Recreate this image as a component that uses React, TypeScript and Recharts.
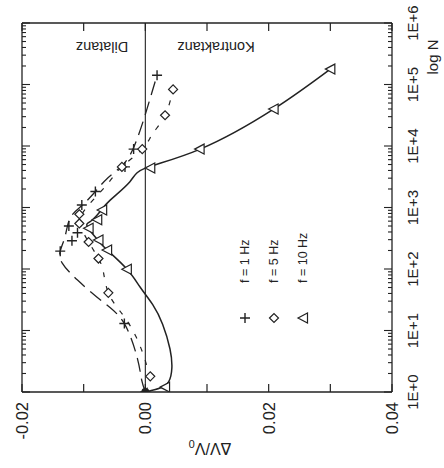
import {
  ComposedChart,
  Line,
  ReferenceLine,
  Scatter,
  XAxis,
  YAxis,
} from 'recharts';

const INK = '#222';
const FONT = '"Liberation Sans", Arial, sans-serif';

// axis ticks
const X_TICKS = [-0.02, -0.01, 0, 0.01, 0.02, 0.03, 0.04];
const X_TICK_LABELS = ['-0.02', '', '0.00', '', '0.02', '', '0.04'];
const Y_MAJOR = [1, 10, 100, 1000, 10000, 100000, 1000000];
const Y_TICK_LABELS = ['1E+0', '1E+1', '1E+2', '1E+3', '1E+4', '1E+5', '1E+6'];
const Y_MINOR: number[] = [];
Y_MAJOR.slice(0, -1).forEach((d) => {
  for (let k = 2; k <= 9; k++) Y_MINOR.push(k * d);
});
const Y_TICKS = [...Y_MAJOR, ...Y_MINOR].sort((a, b) => a - b);

// measured points: f = 1 Hz (+)
const F1_DV = [0, -0.0034, -0.0138, -0.0119, -0.011, -0.0124, -0.0103, -0.0081, -0.0033, -0.0019, 0.0019];
const F1_N = [1, 13, 195, 288, 389, 501, 1096, 1820, 4570, 8910, 141000];

// f = 5 Hz (diamond)
const F5_DV = [0.0008, -0.006, -0.0076, -0.0092, -0.0107, -0.0107, -0.0038, -0.0005, 0.0032, 0.0045];
const F5_N = [1.8, 41, 148, 275, 550, 776, 4570, 8910, 31600, 83200];

// f = 10 Hz (triangle)
const F10_DV = [0.0032, -0.003, -0.0062, -0.0076, -0.0092, -0.0078, -0.007, 0.0008, 0.0088, 0.0208, 0.03];
const F10_N = [1.2, 99, 204, 296, 460, 630, 910, 4400, 8900, 40000, 178000];

// fitted curves
const C1_DV = [0, -0.0006, -0.0013, -0.0034, -0.0068, -0.011, -0.0135, -0.0138, -0.0131, -0.0126, -0.0118, -0.0102, -0.0081, -0.0063, -0.0039, -0.002, -0.0003, 0.0008, 0.0019];
const C1_N = [1, 1.58, 3.55, 12.9, 28.8, 66, 126, 195, 316, 513, 776, 1096, 1820, 2884, 4677, 8913, 26300, 60300, 141000];

const C5_DV = [0, 0.0005, -0.0015, -0.004, -0.006, -0.0068, -0.0076, -0.0092, -0.0105, -0.0103, -0.0085, -0.006, -0.0038, -0.0005, 0.0012, 0.0032, 0.0045];
const C5_N = [1, 2, 7.9, 20, 41, 89, 148, 275, 501, 776, 1318, 2512, 4570, 8913, 15850, 31600, 83200];

const C10_DV = [0, 0.0024, 0.0038, 0.0043, 0.004, 0.0028, 0.0012, -0.0008, -0.003, -0.0062, -0.0077, -0.0094, -0.0088, -0.0072, -0.0057, -0.0025, 0, 0.0089, 0.0208, 0.03];
const C10_N = [1, 1.16, 1.48, 2.45, 5, 12.6, 26.3, 50, 100, 204, 295, 490, 603, 891, 1318, 2630, 4365, 8913, 39800, 177800];

const ORIGIN = [{ dv: 0, n: 1 }];

const zip = (dv: number[], n: number[]) => dv.map((d, i) => ({ dv: d, n: n[i] }));

const plus = (cx: number, cy: number) => (
  <path d={`M${cx - 5},${cy}h10M${cx},${cy - 5}v10`} stroke={INK} strokeWidth={1.4} fill="none" />
);
const diamond = (cx: number, cy: number) => (
  <path d={`M${cx - 4.5},${cy}L${cx},${cy - 4.5}L${cx + 4.5},${cy}L${cx},${cy + 4.5}Z`} stroke={INK} strokeWidth={1.2} fill="#fff" />
);
const triangle = (cx: number, cy: number) => (
  <path d={`M${cx - 5},${cy}L${cx + 4.5},${cy - 5}L${cx + 4.5},${cy + 5}Z`} stroke={INK} strokeWidth={1.2} fill="#fff" />
);

const xIndex = (v: number) => X_TICKS.findIndex((t) => Math.abs(t - v) < 1e-9);
const yIndex = (v: number) => Y_MAJOR.findIndex((t) => Math.abs(t - v) < 1e-6);

function BottomTick(props: any) {
  const { x, y, payload } = props;
  const label = X_TICK_LABELS[xIndex(payload.value)];
  const ty = y + 10;
  return (
    <g>
      <line x1={x} y1={y} x2={x} y2={y - 8} stroke={INK} strokeWidth={1.2} />
      {label && (
        <text x={x} y={ty} dy="0.36em" transform={`rotate(-90 ${x} ${ty})`} textAnchor="end" fontSize={16.5} fontFamily={FONT} fill={INK}>
          {label}
        </text>
      )}
    </g>
  );
}

function TopTick(props: any) {
  const { x, y } = props;
  return <line x1={x} y1={y} x2={x} y2={y + 8} stroke={INK} strokeWidth={1.2} />;
}

function RightTick(props: any) {
  const { x, y, payload } = props;
  const i = yIndex(payload.value);
  const len = i >= 0 ? 8 : 4;
  const tx = x + 21;
  return (
    <g>
      <line x1={x - len} y1={y} x2={x} y2={y} stroke={INK} strokeWidth={1.1} />
      {i >= 0 && (
        <text x={tx} y={y} dy="0.36em" transform={`rotate(-90 ${tx} ${y})`} textAnchor="middle" fontSize={15} fontFamily={FONT} fill={INK}>
          {Y_TICK_LABELS[i]}
        </text>
      )}
    </g>
  );
}

function LeftTick(props: any) {
  const { x, y, payload } = props;
  const len = yIndex(payload.value) >= 0 ? 8 : 4;
  return <line x1={x} y1={y} x2={x + len} y2={y} stroke={INK} strokeWidth={1.1} />;
}

const LEGEND = [
  { label: 'f = 1 Hz', mark: plus },
  { label: 'f = 5 Hz', mark: diamond },
  { label: 'f = 10 Hz', mark: triangle },
];

export default function App() {
  return (
    <div style={{ position: 'absolute', left: 0, top: 0, background: '#fff' }}>
      <ComposedChart width={444} height={468} margin={{ top: 0, right: 0, bottom: 0, left: 0 }}>
        <XAxis
          xAxisId="b"
          dataKey="dv"
          type="number"
          domain={[-0.02, 0.04]}
          ticks={X_TICKS}
          interval={0}
          height={76}
          tickSize={0}
          tickMargin={0}
          tickLine={false}
          axisLine={{ stroke: INK, strokeWidth: 1.3 }}
          tick={<BottomTick />}
          allowDataOverflow
        />
        <XAxis
          xAxisId="t"
          orientation="top"
          dataKey="dv"
          type="number"
          domain={[-0.02, 0.04]}
          ticks={X_TICKS}
          interval={0}
          height={23}
          tickSize={0}
          tickMargin={0}
          tickLine={false}
          axisLine={{ stroke: INK, strokeWidth: 1.3 }}
          tick={<TopTick />}
          allowDataOverflow
        />
        <YAxis
          yAxisId="r"
          orientation="right"
          dataKey="n"
          type="number"
          scale="log"
          domain={[1, 1000000]}
          ticks={Y_TICKS}
          interval={0}
          width={52}
          tickSize={0}
          tickMargin={0}
          tickLine={false}
          axisLine={{ stroke: INK, strokeWidth: 1.3 }}
          tick={<RightTick />}
          allowDataOverflow
        />
        <YAxis
          yAxisId="l"
          orientation="left"
          dataKey="n"
          type="number"
          scale="log"
          domain={[1, 1000000]}
          ticks={Y_TICKS}
          interval={0}
          width={22}
          tickSize={0}
          tickMargin={0}
          tickLine={false}
          axisLine={{ stroke: INK, strokeWidth: 1.3 }}
          tick={<LeftTick />}
          allowDataOverflow
        />
        <ReferenceLine xAxisId="b" yAxisId="r" x={0} stroke={INK} strokeWidth={1.1} />

        <Line xAxisId="b" yAxisId="r" data={zip(C10_DV, C10_N)} dataKey="n" type="natural" dot={false} stroke={INK} strokeWidth={1.5} isAnimationActive={false} />
        <Line xAxisId="b" yAxisId="r" data={zip(C1_DV, C1_N)} dataKey="n" type="natural" dot={false} stroke={INK} strokeWidth={1.3} strokeDasharray="14 7" isAnimationActive={false} />
        <Line xAxisId="b" yAxisId="r" data={zip(C5_DV, C5_N)} dataKey="n" type="natural" dot={false} stroke={INK} strokeWidth={1.2} strokeDasharray="5 9" isAnimationActive={false} />

        <Scatter xAxisId="b" yAxisId="r" data={zip(F1_DV, F1_N)} shape={(p: any) => plus(p.cx, p.cy)} isAnimationActive={false} />
        <Scatter xAxisId="b" yAxisId="r" data={zip(F5_DV, F5_N)} shape={(p: any) => diamond(p.cx, p.cy)} isAnimationActive={false} />
        <Scatter xAxisId="b" yAxisId="r" data={zip(F10_DV, F10_N)} shape={(p: any) => triangle(p.cx, p.cy)} isAnimationActive={false} />
        <Scatter xAxisId="b" yAxisId="r" data={ORIGIN} shape={(p: any) => <circle cx={p.cx} cy={p.cy} r={4} fill={INK} />} isAnimationActive={false} />

        <text x={102} y={47} dy="0.36em" transform="rotate(180 102 47)" textAnchor="middle" fontSize={14.5} fontFamily={FONT} fill={INK}>
          Dilatanz
        </text>
        <text x={216} y={47} dy="0.36em" transform="rotate(180 216 47)" textAnchor="middle" fontSize={14.5} fontFamily={FONT} fill={INK}>
          Kontraktanz
        </text>
        <text x={210} y={449} dy="0.36em" transform="rotate(180 210 449)" textAnchor="middle" fontSize={16} fontFamily={FONT} fill={INK}>
          ΔV/V<tspan fontSize={11} dy="0.3em">0</tspan>
        </text>
        <text x={433} y={57} dy="0.36em" transform="rotate(-90 433 57)" textAnchor="middle" fontSize={15} fontFamily={FONT} fill={INK}>
          log N
        </text>

        {LEGEND.map((it, i) => {
          const x = 245 + i * 29;
          return (
            <g key={it.label}>
              {it.mark(x, 318)}
              <text x={x - 1} y={283} dy="0.36em" transform={`rotate(-90 ${x - 1} 283)`} textAnchor="start" fontSize={12.5} fontFamily={FONT} fill={INK}>
                {it.label}
              </text>
            </g>
          );
        })}
      </ComposedChart>
    </div>
  );
}
